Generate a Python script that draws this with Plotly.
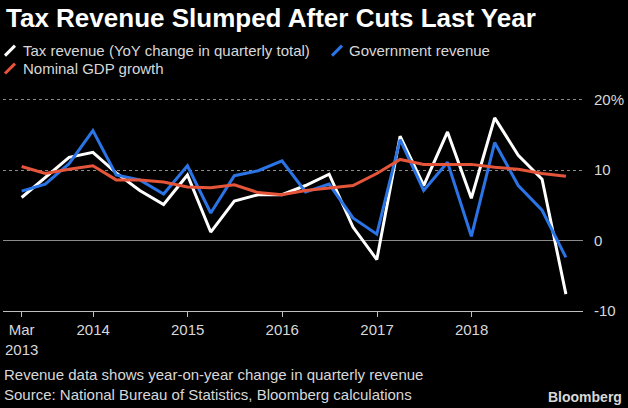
import plotly.graph_objects as go

# ---- data ----
quarters = ["2013-03-31", "2013-06-30", "2013-09-30", "2013-12-31",
            "2014-03-31", "2014-06-30", "2014-09-30", "2014-12-31",
            "2015-03-31", "2015-06-30", "2015-09-30", "2015-12-31",
            "2016-03-31", "2016-06-30", "2016-09-30", "2016-12-31",
            "2017-03-31", "2017-06-30", "2017-09-30", "2017-12-31",
            "2018-03-31", "2018-06-30", "2018-09-30", "2018-12-31"]
tax_revenue = [6.1, 9.0, 11.8, 12.5, 9.6, 7.1, 5.1, 9.3, 1.2, 5.6, 6.5, 6.5,
               7.8, 9.4, 1.9, -2.7, 14.8, 7.8, 15.4, 6.0, 17.4, 12.1, 8.7, -7.6]
gov_revenue = [7.0, 8.0, 10.9, 15.6, 9.3, 8.6, 6.6, 10.6, 3.9, 9.2, 9.9, 11.3,
               6.9, 8.0, 3.2, 0.9, 14.3, 7.1, 11.1, 0.6, 13.9, 7.8, 4.3, -2.4]
nominal_gdp = [10.5, 9.5, 10.1, 10.6, 8.6, 8.6, 8.3, 7.6, 7.5, 7.9, 6.8, 6.5,
               7.1, 7.4, 7.8, 9.5, 11.5, 10.8, 10.8, 10.8, 10.4, 10.1, 9.5, 9.1]
x_tick_vals = ["2013-03-31", "2014-01-01", "2015-01-01", "2016-01-01", "2017-01-01", "2018-01-01"]
x_tick_text = ["Mar<br>2013", "2014", "2015", "2016", "2017", "2018"]
y_tick_vals = [-10, 0, 10, 20]
y_tick_text = ["-10", "0", "10", "20%"]
series_names = ["Tax revenue (YoY change in quarterly total)", "Government revenue", "Nominal GDP growth"]
series_colors = ["#ffffff", "#2b74e6", "#e5553a"]

W, H = 628, 408
L, R, T, B = 3, 583, 95.5, 311  # plot area in pixels (y range -10 .. 20.5)


def px(x):
    return (x - L) / (R - L)


def py(y):
    return (B - y) / (B - T)


FONT = "Liberation Sans, Arial, sans-serif"

fig = go.Figure()
for vals, name, col in [(tax_revenue, series_names[0], series_colors[0]),
                        (gov_revenue, series_names[1], series_colors[1]),
                        (nominal_gdp, series_names[2], series_colors[2])]:
    fig.add_trace(go.Scatter(x=quarters, y=vals, mode="lines", name=name,
                             line=dict(color=col, width=3), showlegend=False))

fig.update_layout(
    width=W, height=H,
    paper_bgcolor="#000000", plot_bgcolor="#000000",
    margin=dict(l=L, r=W - R, t=T, b=H - B, pad=0),
    font=dict(family=FONT, color="#d8d8d8", size=14),
    xaxis=dict(type="date", range=["2013-01-18", "2019-03-07"],
               tickvals=x_tick_vals, ticktext=x_tick_text,
               showgrid=False, zeroline=False,
               showline=True, linecolor="#bfbfbf", linewidth=1,
               ticks="outside", ticklen=5, tickcolor="#bfbfbf",
               tickfont=dict(size=15, color="#d8d8d8")),
    yaxis=dict(range=[-10, 20.5], side="right",
               tickvals=y_tick_vals, ticktext=y_tick_text,
               showgrid=True, gridcolor="#8a8a8a", griddash="dot", gridwidth=1,
               zeroline=True, zerolinecolor="#8a8a8a", zerolinewidth=1.2,
               ticks="", ticklabelstandoff=10,
               tickfont=dict(size=15, color="#d8d8d8")),
)

annotations = [
    dict(text="<b>Tax Revenue Slumped After Cuts Last Year</b>", x=px(4), y=py(17),
         xanchor="left", yanchor="middle", font=dict(size=26, color="#ffffff", family=FONT)),
    dict(text=series_names[0], x=px(21), y=py(50), xanchor="left", yanchor="middle",
         font=dict(size=15, color="#d8d8d8")),
    dict(text=series_names[1], x=px(347), y=py(50), xanchor="left", yanchor="middle",
         font=dict(size=15, color="#d8d8d8")),
    dict(text=series_names[2], x=px(21), y=py(68), xanchor="left", yanchor="middle",
         font=dict(size=15, color="#d8d8d8")),
    dict(text="Revenue data shows year-on-year change in quarterly revenue<br>"
              "Source: National Bureau of Statistics, Bloomberg calculations",
         x=px(2), y=py(385), xanchor="left", yanchor="middle", align="left",
         font=dict(size=15, color="#d8d8d8")),
    dict(text="<b>Bloomberg</b>", x=px(624), y=py(397), xanchor="right", yanchor="middle",
         font=dict(size=14, color="#d8d8d8")),
]
for a in annotations:
    a.update(xref="paper", yref="paper", showarrow=False)
fig.update_layout(annotations=annotations)

swatches = [((5, 55), (15, 45), series_colors[0]),
            ((332, 55), (342, 45), series_colors[1]),
            ((5, 73), (15, 63), series_colors[2])]
for (x0, y0), (x1, y1), col in swatches:
    fig.add_shape(type="line", xref="paper", yref="paper",
                  x0=px(x0), y0=py(y0), x1=px(x1), y1=py(y1),
                  line=dict(color=col, width=3))

fig.write_html("out.html", config={"displayModeBar": False},
               post_script="document.body.style.margin='0';document.body.style.overflow='hidden';")
